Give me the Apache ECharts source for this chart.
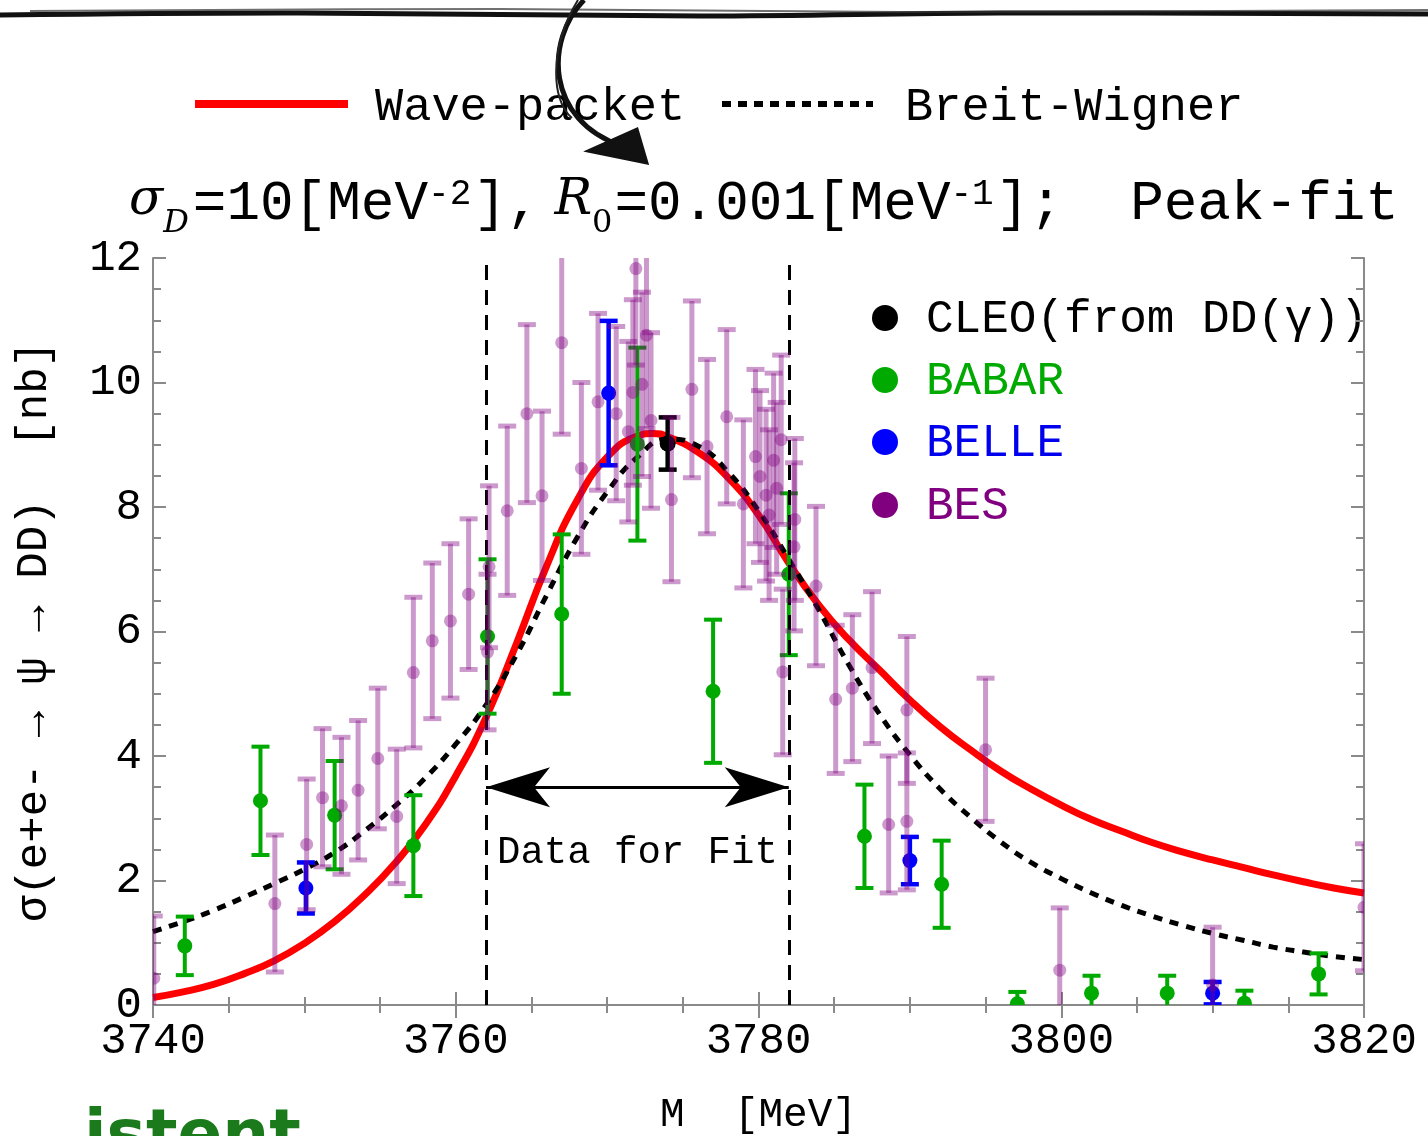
<!DOCTYPE html>
<html><head><meta charset="utf-8">
<script src="https://cdn.jsdelivr.net/npm/echarts@6/dist/echarts.min.js"></script>
<style>html,body{margin:0;padding:0;background:#fff;overflow:hidden}#c{width:1428px;height:1136px}</style>
</head><body><div id="c"></div>
<script>
// ---------- data ----------
const xTickLabels = [3740, 3760, 3780, 3800, 3820];
const yTickLabels = [0, 2, 4, 6, 8, 10, 12];

const babarM = [3742.1, 3747.1, 3752.0, 3757.2, 3762.1, 3767.0, 3772.0, 3777.0, 3782.0, 3787.0, 3792.1, 3797.1, 3802.0, 3807.0, 3812.1, 3817.0];
const babarV = [0.95, 3.28, 3.05, 2.56, 5.92, 6.28, 9.01, 5.04, 6.92, 2.71, 1.94, 0.02, 0.19, 0.19, 0.03, 0.50];
const babarE = [0.47, 0.87, 0.87, 0.81, 1.24, 1.28, 1.55, 1.15, 1.30, 0.83, 0.70, 0.19, 0.28, 0.28, 0.20, 0.33];

const belleM = [3750.1, 3770.1, 3790.0, 3810.0];
const belleV = [1.88, 9.83, 2.32, 0.19];
const belleE = [0.41, 1.16, 0.38, 0.18];

const cleoM = [3774.0];
const cleoV = [9.02];
const cleoE = [0.42];

const besM = [3740.05,3748.05,3750.15,3751.2,3752.45,3753.55,3754.85,3756.1,3757.2,3758.45,3759.65,3760.85,3762.1,3762.2,3763.4,3764.7,3765.7,3767.0,3768.3,3769.4,3770.6,3771.4,3771.7,3771.9,3772.3,3772.6,3772.9,3774.25,3775.6,3776.6,3777.9,3779.0,3779.8,3780.1,3780.5,3780.7,3781.0,3781.2,3781.5,3781.6,3782.35,3782.4,3783.8,3785.1,3786.2,3787.5,3788.6,3789.8,3789.8,3795.0,3799.9,3810.0,3820.0];
const besV = [0.43,1.63,2.58,3.33,3.20,3.45,3.96,3.03,5.34,5.85,6.17,6.60,5.67,7.04,7.94,9.50,8.18,10.64,8.62,9.69,9.50,9.21,9.84,11.83,9.97,10.76,9.39,8.12,9.89,8.97,9.45,8.05,8.81,8.49,8.19,7.87,8.75,8.30,9.08,5.35,7.36,7.80,6.73,4.91,5.09,5.42,2.90,4.74,2.95,4.10,0.56,0.32,1.57];
const besE = [1.00,1.10,1.05,1.11,1.10,1.12,1.13,1.08,1.21,1.25,1.24,1.21,1.25,1.30,1.36,1.43,1.36,1.47,1.38,1.42,1.40,1.45,1.49,1.55,1.48,1.50,1.41,1.32,1.42,1.40,1.40,1.35,1.40,1.38,1.38,1.37,1.40,1.38,1.36,1.33,1.35,1.30,1.28,1.19,1.18,1.22,1.10,1.18,1.10,1.15,1.00,0.93,1.02];

const waveM = [3740,3742,3744,3746,3748,3750,3752,3754,3756,3758,3760,3762,3764,3766,3768,3770,3772,3773,3774,3776,3778,3780,3782,3784,3786,3788,3790,3792,3794,3796,3798,3800,3802,3804,3806,3808,3810,3812,3814,3816,3818,3820];
const waveV = [0.12,0.21,0.33,0.50,0.71,0.99,1.34,1.77,2.28,2.90,3.68,4.62,5.80,7.05,8.10,8.80,9.14,9.18,9.13,8.88,8.47,7.87,7.10,6.42,5.86,5.38,4.90,4.47,4.10,3.76,3.47,3.21,2.98,2.79,2.61,2.46,2.33,2.21,2.09,1.98,1.88,1.80];

const bwM = [3740,3742,3744,3746,3748,3750,3752,3754,3756,3758,3760,3762,3764,3766,3768,3770,3772,3774,3776,3778,3780,3782,3784,3786,3788,3790,3792,3794,3796,3798,3800,3802,3804,3806,3808,3810,3812,3814,3816,3818,3820];
const bwV = [1.18,1.34,1.52,1.73,1.95,2.18,2.45,2.80,3.20,3.65,4.19,4.82,5.62,6.58,7.50,8.24,8.80,9.09,8.98,8.56,7.94,7.16,6.34,5.45,4.67,4.02,3.47,3.02,2.62,2.29,2.03,1.80,1.60,1.43,1.28,1.15,1.04,0.93,0.85,0.78,0.73];

const fitRange = [3762, 3782];
const arrowLevel = 3.5;
const fitLabelPos = [3772, 2.45];

// ---------- helpers ----------
const MONO = '"Liberation Mono", "DejaVu Sans Mono", monospace';
const SERIF = '"DejaVu Serif", "Liberation Serif", serif';
const zip = (a, b) => a.map((x, i) => [x, b[i]]);
const errData = (m, v, e) => m.map((x, i) => [x, v[i] - e[i], v[i] + e[i], v[i]]);

function errRender(color, lw, capHalf, r, opacity) {
  return function (params, api) {
    const x = api.value(0), lo = api.value(1), hi = api.value(2), v = api.value(3);
    const pLo = api.coord([x, lo]), pHi = api.coord([x, hi]), pC = api.coord([x, v]);
    const ls = { stroke: color, lineWidth: lw, opacity: opacity };
    return {
      type: 'group',
      children: [
        { type: 'line', shape: { x1: pLo[0], y1: pLo[1], x2: pHi[0], y2: pHi[1] }, style: ls },
        { type: 'line', shape: { x1: pLo[0] - capHalf, y1: pLo[1], x2: pLo[0] + capHalf, y2: pLo[1] }, style: ls },
        { type: 'line', shape: { x1: pHi[0] - capHalf, y1: pHi[1], x2: pHi[0] + capHalf, y2: pHi[1] }, style: ls },
        { type: 'circle', shape: { cx: pC[0], cy: pC[1], r: r }, style: { fill: color, opacity: opacity } }
      ]
    };
  };
}

const axisCommon = {
  type: 'value',
  axisLine: { show: true, lineStyle: { color: '#8a8a8a', width: 2 } },
  axisTick: { show: true, inside: true, length: 13, lineStyle: { color: '#8a8a8a', width: 2 } },
  minorTick: { show: true, splitNumber: 4, length: 8, lineStyle: { color: '#8a8a8a', width: 2 } },
  splitLine: { show: false },
  minorSplitLine: { show: false }
};

const chart = echarts.init(document.getElementById('c'), null, { renderer: 'canvas' });

const tStyle = (o) => Object.assign({ fontWeight: 'normal', color: '#000', verticalAlign: 'top' }, o);

const option = {
  animation: false,
  backgroundColor: '#ffffff',
  title: {
    left: 124, top: 171,
    text: '{a|σ}{b|D}{c|=10[MeV}{d|-2}{c|],}{e|R}{f|0}{c|=0.001[MeV}{d|-1}{c|];  Peak-fit}',
    textStyle: {
      fontWeight: 'normal',
      rich: {
        a: tStyle({ fontFamily: SERIF, fontStyle: 'italic', fontSize: 50, lineHeight: 64 }),
        b: tStyle({ fontFamily: SERIF, fontStyle: 'italic', fontSize: 32, lineHeight: 36, padding: [32, 4, 0, 0] }),
        c: tStyle({ fontFamily: MONO, fontSize: 56, lineHeight: 64 }),
        d: tStyle({ fontFamily: MONO, fontSize: 36, lineHeight: 36, padding: [0, 2, 0, 0] }),
        e: tStyle({ fontFamily: SERIF, fontStyle: 'italic', fontSize: 50, lineHeight: 64, padding: [0, 0, 0, 14] }),
        f: tStyle({ fontFamily: SERIF, fontSize: 32, lineHeight: 36, padding: [32, 2, 0, 0] })
      }
    }
  },
  grid: { left: 153, top: 258, width: 1211, height: 747, outerBoundsMode: 'none', containLabel: false },
  xAxis: [
    Object.assign({}, axisCommon, {
      min: xTickLabels[0], max: xTickLabels[xTickLabels.length - 1], interval: 20, position: 'bottom',
      name: 'M  [MeV]', nameLocation: 'middle', nameGap: 90,
      nameTextStyle: { fontFamily: MONO, fontSize: 41, color: '#000' },
      axisLabel: { fontFamily: MONO, fontSize: 44, color: '#000', margin: 14, formatter: (v) => String(v) }
    }),
    Object.assign({}, axisCommon, {
      min: xTickLabels[0], max: xTickLabels[xTickLabels.length - 1], interval: 20, position: 'top',
      axisLabel: { show: false }
    })
  ],
  yAxis: [
    Object.assign({}, axisCommon, {
      min: yTickLabels[0], max: yTickLabels[yTickLabels.length - 1], interval: 2, position: 'left',
      name: 'σ(e+e- → ψ → DD)  [nb]', nameLocation: 'middle', nameGap: 97, nameRotate: 90,
      nameTextStyle: { fontFamily: MONO, fontSize: 44, color: '#000' },
      axisLabel: { fontFamily: MONO, fontSize: 44, color: '#000', margin: 11, formatter: (v) => String(v) }
    }),
    Object.assign({}, axisCommon, {
      min: yTickLabels[0], max: yTickLabels[yTickLabels.length - 1], interval: 2, position: 'right',
      axisLabel: { show: false }
    })
  ],
  series: [
    {
      name: 'Wave-packet', type: 'line', z: 2, data: zip(waveM, waveV), smooth: 0.5,
      symbol: 'none', clip: true, lineStyle: { color: '#ff0000', width: 7 }
    },
    {
      name: 'Breit-Wigner', type: 'line', z: 2, data: zip(bwM, bwV), smooth: 0.5,
      symbol: 'none', clip: true, lineStyle: { color: '#000000', width: 5, type: [9, 8] }
    },
    {
      name: 'BABAR', type: 'custom', z: 3, clip: true, data: errData(babarM, babarV, babarE),
      encode: { x: 0, y: [1, 2, 3] }, renderItem: errRender('#00aa00', 4, 9, 7.5, 1)
    },
    {
      name: 'BELLE', type: 'custom', z: 3, clip: true, data: errData(belleM, belleV, belleE),
      encode: { x: 0, y: [1, 2, 3] }, renderItem: errRender('#0000ff', 4.5, 9, 7.5, 1)
    },
    {
      name: 'CLEO', type: 'custom', z: 3, clip: true, data: errData(cleoM, cleoV, cleoE),
      encode: { x: 0, y: [1, 2, 3] }, renderItem: errRender('#000000', 4.5, 9, 8, 1)
    },
    {
      name: 'Fit range', type: 'line', z: 4, data: [], symbol: 'none',
      markLine: {
        silent: true, animation: false,
        symbol: ['none', 'none'],
        label: { show: false },
        data: [
          { xAxis: fitRange[0], lineStyle: { color: '#000', width: 3, type: [15, 10] } },
          { xAxis: fitRange[1], lineStyle: { color: '#000', width: 3, type: [15, 10] } },
          [
            { coord: [fitRange[0], arrowLevel], symbol: 'arrow', symbolSize: [30, 64] },
            { coord: [fitRange[1], arrowLevel], symbol: 'arrow', symbolSize: [30, 64],
              lineStyle: { color: '#000', width: 3, type: 'solid' } }
          ]
        ],
        lineStyle: { color: '#000', width: 3, type: 'solid' }
      },
      markPoint: {
        silent: true, symbol: 'circle', symbolSize: 0,
        data: [{ coord: fitLabelPos }],
        label: { show: true, position: 'inside', formatter: 'Data for Fit', fontFamily: MONO, fontSize: 39, color: '#000' }
      }
    },
    {
      name: 'BES', type: 'custom', z: 5, clip: true, data: errData(besM, besV, besE),
      encode: { x: 0, y: [1, 2, 3] }, renderItem: errRender('#800080', 5, 9, 6.5, 0.4)
    }
  ],
  graphic: [
    // sketchy top rule
    { type: 'polyline', z: 10, shape: { points: [[0, 15], [300, 13], [700, 16], [1000, 13], [1428, 14]], smooth: 0.4 }, style: { stroke: '#111', lineWidth: 5, fill: null } },
    { type: 'polyline', z: 10, shape: { points: [[30, 11], [500, 9], [900, 12], [1428, 10]], smooth: 0.4 }, style: { stroke: '#333', lineWidth: 2, fill: null, opacity: 0.7 } },
    // hand-drawn arrow
    { type: 'bezierCurve', z: 10, shape: { x1: 584, y1: 0, cpx1: 545, cpy1: 40, cpx2: 545, cpy2: 120, x2: 622, y2: 146 }, style: { stroke: '#111', lineWidth: 5, fill: null } },
    { type: 'bezierCurve', z: 10, shape: { x1: 578, y1: 0, cpx1: 550, cpy1: 45, cpx2: 550, cpy2: 100, x2: 572, y2: 118 }, style: { stroke: '#222', lineWidth: 2, fill: null } },
    { type: 'polygon', z: 10, shape: { points: [[588, 151], [647, 163], [637, 129]] }, style: { fill: '#111', stroke: '#111', lineWidth: 3 } },
    // top legend
    { type: 'line', shape: { x1: 195, y1: 104, x2: 348, y2: 104 }, style: { stroke: '#ff0000', lineWidth: 8 } },
    { type: 'text', x: 375, y: 108, style: { text: 'Wave-packet', font: '47px ' + MONO, fill: '#000', verticalAlign: 'middle' } },
    { type: 'line', shape: { x1: 722, y1: 104, x2: 873, y2: 104 }, style: { stroke: '#000', lineWidth: 6, lineDash: [9, 7] } },
    { type: 'text', x: 905, y: 108, style: { text: 'Breit-Wigner', font: '47px ' + MONO, fill: '#000', verticalAlign: 'middle' } },
    // inner legend
    { type: 'circle', shape: { cx: 885, cy: 318, r: 13 }, style: { fill: '#000' } },
    { type: 'text', x: 926, y: 320, style: { text: 'CLEO(from DD(γ))', font: '46px ' + MONO, fill: '#000', verticalAlign: 'middle' } },
    { type: 'circle', shape: { cx: 885, cy: 380, r: 13 }, style: { fill: '#00aa00' } },
    { type: 'text', x: 926, y: 382, style: { text: 'BABAR', font: '46px ' + MONO, fill: '#00aa00', verticalAlign: 'middle' } },
    { type: 'circle', shape: { cx: 885, cy: 442, r: 13 }, style: { fill: '#0000ff' } },
    { type: 'text', x: 926, y: 444, style: { text: 'BELLE', font: '46px ' + MONO, fill: '#0000ee', verticalAlign: 'middle' } },
    { type: 'circle', shape: { cx: 885, cy: 505, r: 13 }, style: { fill: '#800080' } },
    { type: 'text', x: 926, y: 507, style: { text: 'BES', font: '46px ' + MONO, fill: '#800080', verticalAlign: 'middle' } },
    // cut-off slide text at bottom-left
    { type: 'text', x: 84, y: 1172, style: { text: 'istent', font: 'bold 66px "DejaVu Sans", sans-serif', fill: '#1b7a1b', verticalAlign: 'bottom' } }
  ]
};

chart.setOption(option);
</script>
</body></html>
